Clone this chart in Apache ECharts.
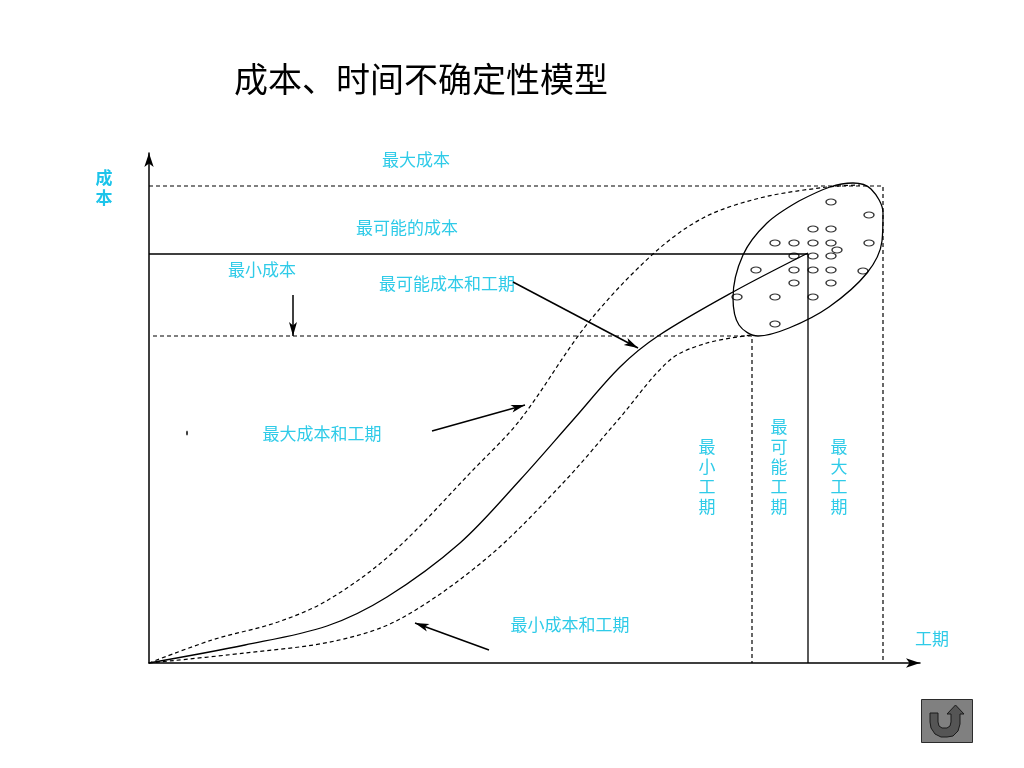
<!DOCTYPE html>
<html>
<head>
<meta charset="utf-8">
<style>
  html, body { margin: 0; padding: 0; background: #fff; }
  #chart { width: 1024px; height: 768px; }
</style>
<script src="https://cdn.jsdelivr.net/npm/echarts@6/dist/echarts.min.js"></script>
</head>
<body>
<div id="chart"></div>
<script>
  // 曲线数据 [工期, 成本]
  const maxCurve = [[0,0],[63,23],[129,41],[179,63],[241,108],[324,193],[371,243],[439,340],[504,409],[554,445],[611,465],[678,476],[711,478]]
  const likelyCurve = [[0,0],[96,18],[178,37],[238,66],[311,120],[371,183],[424,243],[471,296],[509,327],[584,371],[659,410]]
  const minCurve = [[0,0],[96,10],[186,22],[251,44],[338,105],[414,180],[469,243],[521,303],[558,320],[603,328]]
  const region = [[650,462],[681,476],[704,480],[722,474],[734,450],[733,422],[718,390],[680,356],[640,335],[609,327],[590,338],[584,365],[594,408],[618,440],[650,462]]
  const samples = [[682,461],[720,448],[664,434],[682,434],[626,420],[645,420],[664,420],[682,420],[720,420],[688,413],[645,407],[664,407],[682,407],[607,393],[645,393],[664,393],[682,393],[714,392],[645,380],[682,380],[588,366],[626,366],[664,366],[626,339]]
  const strayDot = [[38,230]]

  // 参考线
  const maxCostLine = [[0,477],[734,477],[734,0]]
  const likelyLine = [[0,409],[659,409],[659,0]]
  const minCostLine = [[4,327],[603,327],[603,0]]

  // 箭头 [起点, 终点]
  const arrows = [
    [[144,368],[144,327]],
    [[283,232],[376,258]],
    [[340,13],[266,40]],
    [[364,381],[489,315]]
  ]

  const titleText = '成本、时间不确定性模型'
  // 文字标注 [文字, 中心x, 中心y]
  const notes = [
    ['最大成本', 416, 160],
    ['最可能的成本', 407, 228],
    ['最小成本', 262, 270],
    ['最可能成本和工期', 447, 284],
    ['最大成本和工期', 322, 434],
    ['最小成本和工期', 570, 625],
    ['工期', 932, 639]
  ]
  const verticalNotes = [
    ['最\n小\n工\n期', 707, 477],
    ['最\n可\n能\n工\n期', 779, 467],
    ['最\n大\n工\n期', 839, 477]
  ]

  const cnFont = '"Noto Sans CJK SC", sans-serif'
  const noteColor = '#2fcbe8'

  function dashLine(data){
    return {
      type:'line',
      data:data,
      showSymbol:false,
      silent:true,
      lineStyle:{color:'#000',width:1.2,type:[4,3]}
    }
  }
  function solidLine(data){
    return {
      type:'line',
      data:data,
      showSymbol:false,
      silent:true,
      lineStyle:{color:'#000',width:1.3}
    }
  }

  const noteEls = notes.map(item => ({
    type:'text',
    x:item[1],
    y:item[2],
    style:{text:item[0],font:'17px ' + cnFont,fill:noteColor,align:'center',verticalAlign:'middle'}
  }))
  const verticalEls = verticalNotes.map(item => ({
    type:'text',
    x:item[1],
    y:item[2],
    style:{text:item[0],font:'17px ' + cnFont,lineHeight:20,fill:noteColor,align:'center',verticalAlign:'middle'}
  }))
  const axisNameEl = {
    type:'text',
    x:104,
    y:188,
    style:{text:'成\n本',font:'bold 17px ' + cnFont,lineHeight:20,fill:'#1cc4ea',align:'center',verticalAlign:'middle'}
  }
  // 返回按钮
  const backButton = [
    {type:'rect',shape:{x:921.5,y:699.5,width:51,height:43},style:{fill:'#808080',stroke:'#2b2b2b',lineWidth:1}},
    {
      type:'polygon',
      shape:{points:[[930,713],[938,713],[938,722],[939,726],[942,728],[947,728],[950,726],[951,722],[951,714],[947,714],[955.5,705],[964,714],[960,714],[960,724],[958,731],[953,736],[947,737],[941,737],[935,734],[931,728],[930,722]]},
      style:{fill:'#555',stroke:'#1a1a1a',lineWidth:1}
    }
  ]

  const chartInstance = echarts.init(document.getElementById('chart'))
  chartInstance.setOption({
    animation:false,
    backgroundColor:'#fff',
    title:{
      text:titleText,
      left:229,
      top:57,
      textStyle:{fontFamily:cnFont,fontSize:34,fontWeight:'normal',color:'#000'}
    },
    grid:{left:149,right:104,top:153,bottom:105},
    xAxis:{
      type:'value',
      min:0,
      max:771,
      axisLine:{show:true,symbol:['none','arrow'],symbolSize:[7,14],lineStyle:{color:'#000',width:1.5}},
      axisTick:{show:false},
      axisLabel:{show:false},
      splitLine:{show:false}
    },
    yAxis:{
      type:'value',
      min:0,
      max:510,
      axisLine:{show:true,symbol:['none','arrow'],symbolSize:[7,14],lineStyle:{color:'#000',width:1.5}},
      axisTick:{show:false},
      axisLabel:{show:false},
      splitLine:{show:false}
    },
    series:[
      dashLine(maxCostLine),
      solidLine(likelyLine),
      dashLine(minCostLine),
      Object.assign(dashLine(maxCurve),{smooth:0.33}),
      Object.assign(solidLine(likelyCurve),{smooth:0.33}),
      Object.assign(dashLine(minCurve),{smooth:0.33}),
      Object.assign(solidLine(region),{smooth:0.33}),
      {
        type:'scatter',
        data:samples,
        symbol:'circle',
        symbolSize:[10,6],
        silent:true,
        itemStyle:{color:'rgba(0,0,0,0)',borderColor:'#000',borderWidth:1.1}
      },
      {
        type:'scatter',
        data:strayDot,
        symbol:'circle',
        symbolSize:[2,5],
        silent:true,
        itemStyle:{color:'#000'}
      },
      {
        type:'lines',
        coordinateSystem:'cartesian2d',
        silent:true,
        symbol:['none','arrow'],
        symbolSize:[1,[6,14]],
        lineStyle:{color:'#000',width:1.5,opacity:1,curveness:0},
        data:arrows.map(a => ({coords:a}))
      }
    ],
    graphic:{elements:noteEls.concat(verticalEls,[axisNameEl],backButton)}
  })
</script>
</body>
</html>
